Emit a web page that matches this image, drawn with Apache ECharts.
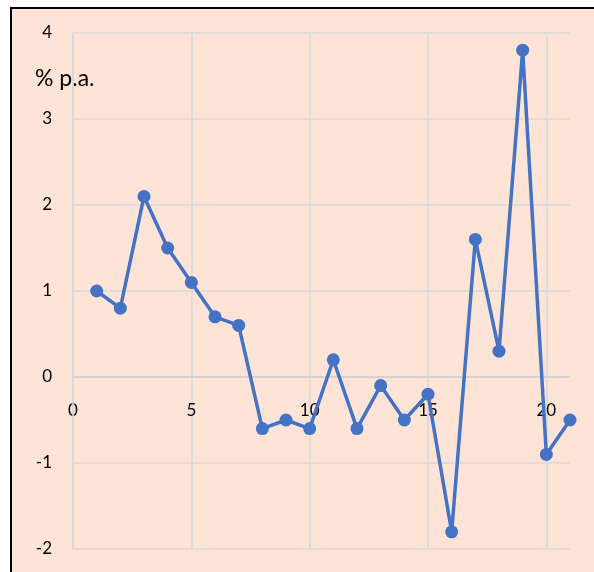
<!DOCTYPE html>
<html>
<head>
<meta charset="utf-8">
<script src="https://cdn.jsdelivr.net/npm/echarts@6/dist/echarts.min.js"></script>
<style>
  html, body { margin: 0; padding: 0; background: #ffffff; }
  #frame {
    position: absolute; left: 10px; top: 7px; width: 584px; height: 565px;
    border-left: 2px solid #000; border-top: 2px solid #000;
    background: #fde4d6; box-sizing: border-box;
  }
  #chart { position: absolute; left: 0; top: 0; width: 594px; height: 572px; }
</style>
</head>
<body>
<div id="frame"></div>
<div id="chart"></div>
<script>
// Annual rate, % p.a., by period 1..21
const periods = [1, 2, 3, 4, 5, 6, 7, 8, 9, 10, 11, 12, 13, 14, 15, 16, 17, 18, 19, 20, 21];
const rates = [1.0, 0.8, 2.1, 1.5, 1.1, 0.7, 0.6, -0.6, -0.5, -0.6, 0.2, -0.6, -0.1, -0.5, -0.2, -1.8, 1.6, 0.3, 3.8, -0.9, -0.5];
const unitLabel = '% p.a.';

const yMin = -2, yMax = 4;
const gridTop = 33, gridHeight = 516;
// the horizontal axis sits on the y = 0 line
const zeroOffset = -gridHeight * (0 - yMin) / (yMax - yMin);

const font = 'Lato, "Open Sans", sans-serif';
const gridColor = '#d9d9d9';
const chart = echarts.init(document.getElementById('chart'), null, { renderer: 'canvas' });

chart.setOption({
  backgroundColor: 'transparent',
  animation: false,
  grid: { left: 73, top: gridTop, width: 497, height: gridHeight, containLabel: false, outerBoundsMode: 'none' },
  graphic: [{
    type: 'text', x: 35, y: 79,
    style: { text: unitLabel, font: '23px ' + font, fill: '#000', verticalAlign: 'middle' }
  }],
  xAxis: {
    type: 'value', min: 0, max: 21, interval: 5,
    position: 'bottom', offset: zeroOffset,
    axisLine: { show: true, onZero: false, lineStyle: { color: '#cfcfcf', width: 1.5 } },
    axisTick: { show: false },
    axisLabel: { color: '#000', fontSize: 17, fontFamily: font, margin: 25, showMaxLabel: false },
    splitLine: { show: true, showMaxLine: false, lineStyle: { color: gridColor, width: 1.5 } }
  },
  yAxis: {
    type: 'value', min: yMin, max: yMax, interval: 1,
    axisLine: { show: true, onZero: false, lineStyle: { color: gridColor, width: 1.5 } },
    axisTick: { show: false },
    axisLabel: { color: '#000', fontSize: 17, fontFamily: font, margin: 21 },
    splitLine: { show: true, lineStyle: { color: gridColor, width: 1.5 } }
  },
  series: [{
    type: 'line',
    data: periods.map((p, i) => [p, rates[i]]),
    symbol: 'circle', symbolSize: 13,
    lineStyle: { color: '#4472c4', width: 3.5 },
    itemStyle: { color: '#4472c4' },
    // vertical gridline at x = 0
    markLine: {
      silent: true, symbol: ['none', 'none'], label: { show: false },
      lineStyle: { color: gridColor, width: 1.5, type: 'solid' },
      z: 1,
      data: [{ xAxis: 0 }]
    }
  }]
});
</script>
</body>
</html>
